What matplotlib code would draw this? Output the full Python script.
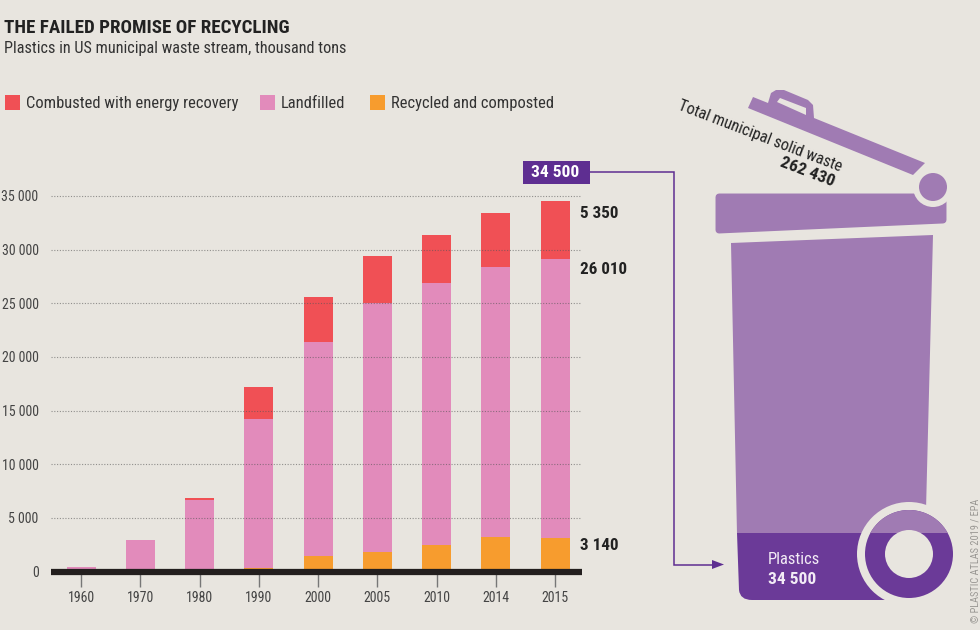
import matplotlib
matplotlib.use("Agg")
import matplotlib.pyplot as plt
from matplotlib.patches import Circle, Polygon, Rectangle, PathPatch
from matplotlib.path import Path

years = ["1960", "1970", "1980", "1990", "2000", "2005", "2010", "2014", "2015"]
recycled = [0, 0, 20, 370, 1480, 1780, 2500, 3170, 3140]
landfilled = [390, 2900, 6670, 13800, 19950, 23270, 24400, 25200, 26010]
combusted = [0, 0, 140, 3000, 4120, 4330, 4490, 5050, 5350]
y_ticks = [0, 5000, 10000, 15000, 20000, 25000, 30000, 35000]
y_labels = ["0", "5 000", "10 000", "15 000", "20 000", "25 000", "30 000", "35 000"]

BG = "#E8E5DF"
RED = "#F05055"
PINK = "#E28BBB"
ORANGE = "#F79C2E"
LIGHT = "#A07BB3"
DARK = "#6B3A98"
BOX = "#5E2E91"
INK = "#222222"

plt.rcParams["font.family"] = ["Roboto Condensed", "Roboto", "DejaVu Sans"]

W, H = 980, 630
fig = plt.figure(figsize=(9.8, 6.3), dpi=100, facecolor=BG)

# chart axes, placed so that 0 sits on the black baseline
top_px, base_px = 190, 571.5
ax = fig.add_axes([51 / W, 1 - base_px / H, 531 / W, (base_px - top_px) / H])
ax.patch.set_alpha(0)
pos = list(range(len(years)))
ax.bar(pos, recycled, 0.49, color=ORANGE, zorder=2)
ax.bar(pos, landfilled, 0.49, bottom=recycled, color=PINK, zorder=2)
bottoms = [r + l for r, l in zip(recycled, landfilled)]
ax.bar(pos, combusted, 0.49, bottom=bottoms, color=RED, zorder=2)
ax.set_xlim(-0.51, 8.455)
ax.set_ylim(0, (base_px - top_px) / 53.65 * 5000)
ax.set_yticks(y_ticks, y_labels)
ax.set_xticks(pos, years)
ax.tick_params(axis="y", length=0, pad=9, labelsize=10, labelcolor="#444444")
ax.tick_params(axis="x", length=11, width=1, color="#777777", pad=3, labelsize=10, labelcolor="#444444")
for v in y_ticks[1:]:
    ax.axhline(v, color="#555555", lw=0.8, ls=(0, (1, 1.5)), alpha=0.6, zorder=3)
for s in ["top", "left", "right"]:
    ax.spines[s].set_visible(False)
ax.spines["bottom"].set_linewidth(4.5)
ax.spines["bottom"].set_color("#231F1E")
ax.spines["bottom"].set_capstyle("butt")
ax.spines["bottom"].set_zorder(4)

# overlay in pixel coordinates for the text and the bin drawing
ov = fig.add_axes([0, 0, 1, 1])
ov.set_xlim(0, W)
ov.set_ylim(H, 0)
ov.axis("off")
ov.patch.set_alpha(0)

ov.text(4, 28, "THE FAILED PROMISE OF RECYCLING", fontsize=13.7, fontweight="bold", color=INK, va="center")
ov.text(4, 48, "Plastics in US municipal waste stream, thousand tons", fontsize=11.7, color="#333333", va="center")

legend = [(5, RED, "Combusted with energy recovery"), (260, PINK, "Landfilled"), (370, ORANGE, "Recycled and composted")]
for x, c, label in legend:
    ov.add_patch(Rectangle((x, 95), 15, 15, color=c, lw=0))
    ov.text(x + 20.5, 103.5, label, fontsize=11.85, color="#333333", va="center")

for y, label in [(213, "5 350"), (270, "26 010"), (545, "3 140")]:
    ov.text(580, y, label, fontsize=12.3, fontweight="bold", color=INK, va="center")

# total box and connector
ov.add_patch(Rectangle((523, 161), 67, 23, color=BOX, lw=0))
ov.text(555, 172.5, "34 500", fontsize=12.5, fontweight="bold", color="white", ha="center", va="center")
ov.plot([590, 673.5, 673.5, 714], [172, 172, 564.5, 564.5], color=BOX, lw=1.1, solid_joinstyle="miter")
ov.add_patch(Polygon([(712, 560), (724, 564.5), (712, 569)], color=BOX, lw=0))

# bin body
ov.add_patch(Polygon([(731, 243), (933, 235), (926, 510), (900, 540), (737, 534)], color=LIGHT, lw=0))
dark_path = Path(
    [(737, 533), (739, 590), (740, 600), (752, 600), (890, 600), (930, 533), (737, 533)],
    [Path.MOVETO, Path.LINETO, Path.CURVE3, Path.CURVE3, Path.LINETO, Path.LINETO, Path.CLOSEPOLY],
)
ov.add_patch(PathPatch(dark_path, facecolor=DARK, lw=0))

# rim of the bin
ov.add_patch(Polygon([(719, 197), (943, 197), (943, 220), (719, 230)], facecolor=LIGHT, edgecolor=LIGHT, lw=5, joinstyle="round"))

# lid with handle
ov.add_patch(Polygon([(748, 108), (753, 97), (768, 103), (771, 93), (776, 90), (784, 90), (808, 100), (813, 105),
                      (814, 118), (925, 163), (913, 175)], color=LIGHT, lw=0))
ov.add_patch(Polygon([(777, 102), (780, 98), (806, 108), (806, 115)], color=BG, lw=0))

# hinge
ov.add_patch(Circle((933, 187), 20, color=BG, lw=0))
ov.add_patch(Circle((933, 187), 14, color=LIGHT, lw=0))

# wheel
ov.add_patch(Circle((909, 554), 52, color=BG, lw=0))
wheel = Circle((909, 554), 44, color=DARK, lw=0)
ov.add_patch(wheel)
upper = Rectangle((860, 505), 100, 28, color=LIGHT, lw=0)
ov.add_patch(upper)
upper.set_clip_path(wheel)
ov.add_patch(Circle((909, 554), 24, color=BG, lw=0))

ov.text(768, 559, "Plastics", fontsize=12, color="#F3ECF6", va="center")
ov.text(768, 579, "34 500", fontsize=12.5, fontweight="bold", color="#F3ECF6", va="center")

ov.text(679, 105, "Total municipal solid waste", fontsize=11.6, color=INK, rotation=-21,
        rotation_mode="anchor", va="center")
ov.text(807, 172, "262 430", fontsize=12.5, fontweight="bold", color=INK, rotation=-21,
        rotation_mode="anchor", ha="center", va="center")

ov.text(975, 561, "© PLASTIC ATLAS 2019 / EPA", fontsize=7.5, color="#9A9894", rotation=90, ha="center", va="center")

fig.savefig("out.png", dpi=100, facecolor=BG)
